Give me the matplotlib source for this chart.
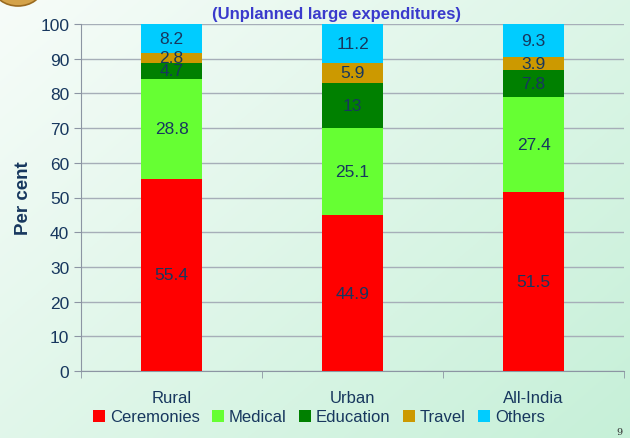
import numpy as np
import matplotlib.pyplot as plt
from matplotlib.patches import Ellipse

plt.rcParams['font.family'] = ['Liberation Sans', 'DejaVu Sans']

# data
regions = ['Rural', 'Urban', 'All-India']
series = ['Ceremonies', 'Medical', 'Education', 'Travel', 'Others']
ceremonies = [55.4, 44.9, 51.5]
medical = [28.8, 25.1, 27.4]
education = [4.7, 13, 7.8]
travel = [2.8, 5.9, 3.9]
others = [8.2, 11.2, 9.3]
colors = ['#FF0000', '#66FF33', '#008000', '#CC9900', '#00CCFF']

navy = '#17375E'

fig = plt.figure(figsize=(6.3, 4.39), dpi=100)

# slide background gradient
bg = fig.add_axes([0, 0, 1, 1], zorder=-10)
yy, xx = np.mgrid[0:1:200j, 0:1:300j]
t = np.clip(0.55 * xx + 0.45 * (1 - yy), 0, 1)
c0 = np.array([247, 252, 249]) / 255
c1 = np.array([198, 240, 216]) / 255
img = c0[None, None, :] * (1 - t[..., None]) + c1[None, None, :] * t[..., None]
bg.imshow(img, aspect='auto', extent=[0, 630, 0, 439], origin='lower')
# bit of the coin picture in the corner
bg.add_patch(Ellipse((18, 439 + 11), 48, 36, fc='#D4A24A', ec='#9A6A20', lw=1.2))
bg.set_xlim(0, 630)
bg.set_ylim(0, 439)
bg.axis('off')

ax = fig.add_axes([81 / 630, 1 - 372 / 439, (624 - 81) / 630, (372 - 25) / 439])
ax.patch.set_alpha(0)

x = np.arange(len(regions))
data = [ceremonies, medical, education, travel, others]
bottom = np.zeros(len(regions))
for name, vals, col in zip(series, data, colors):
    vals = np.array(vals)
    ax.bar(x, vals, 0.337, bottom=bottom, color=col, label=name, zorder=3)
    for xi, b, v in zip(x, bottom, vals):
        ax.text(xi, b + v / 2, f'{v:g}', ha='center', va='center',
                fontsize=12.5, color=navy, zorder=4)
    bottom += vals

ax.set_xlim(-0.5, 2.5)
ax.set_ylim(0, 100)
ax.set_yticks(range(0, 101, 10))
ax.yaxis.grid(True, color='#A6AEB8', lw=1)
ax.set_axisbelow(True)
ax.set_xticks(x)
ax.set_xticklabels(regions)
ax.set_xticks([-0.5, 0.5, 1.5, 2.5], minor=True)
ax.tick_params(axis='x', which='major', length=0, pad=14, labelsize=12, labelcolor=navy)
ax.tick_params(axis='x', which='minor', length=5, color='#8C95A3')
ax.tick_params(axis='y', length=5, color='#8C95A3', labelsize=12.5, labelcolor=navy)
for s in ['top', 'right']:
    ax.spines[s].set_visible(False)
for s in ['left', 'bottom']:
    ax.spines[s].set_color('#8C95A3')

ax.set_ylabel('Per cent', fontsize=13.5, fontweight='bold', color=navy, labelpad=6)

fig.text(337 / 630, 1 - 15 / 439, '(Unplanned large expenditures)', ha='center',
         va='center', fontsize=12, fontweight='bold', color='#3A3ACC')

leg = fig.legend(loc='center', bbox_to_anchor=(319 / 630, 1 - 418 / 439), ncol=5,
                 frameon=False, fontsize=12, handlelength=0.7, handleheight=0.7,
                 handletextpad=0.3, columnspacing=0.75, labelcolor=navy)

fig.text(619 / 630, 1 - 433 / 439, '9', ha='center', va='center', fontsize=7,
         family='DejaVu Serif', color='#333333')

fig.savefig('out.png', dpi=100)
